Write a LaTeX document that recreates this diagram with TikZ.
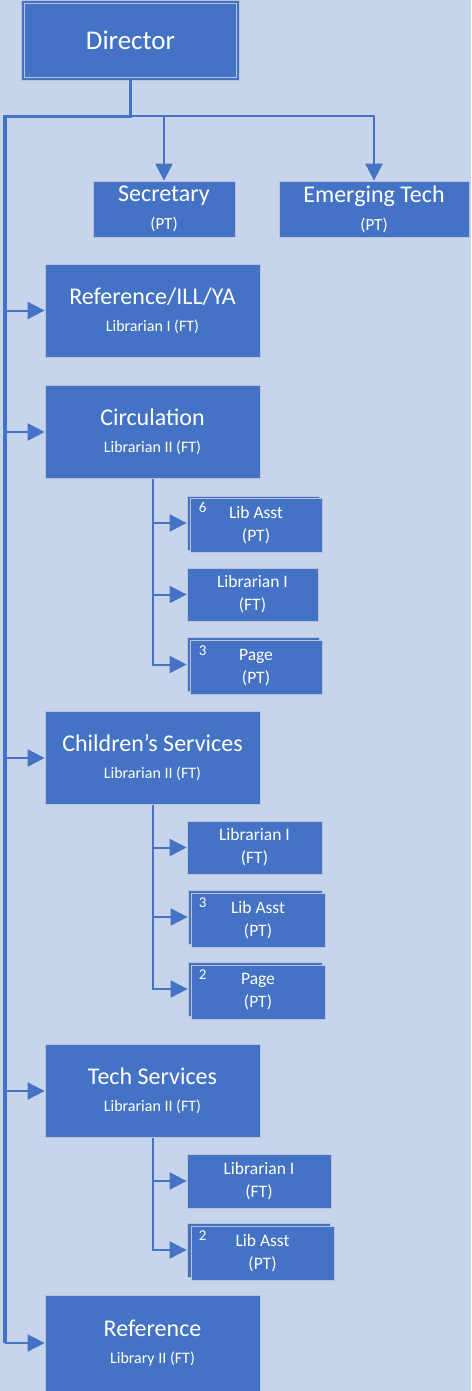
\documentclass[tikz,border=0pt]{standalone}
\usepackage{fontspec}
\setmainfont{Carlito}
\usetikzlibrary{arrows.meta,calc}
\definecolor{bg}{HTML}{C6D5EC}
\definecolor{boxblue}{HTML}{4472C4}
\definecolor{edgec}{HTML}{B8C3D6}
\definecolor{linec}{HTML}{4472C4}
\newcommand\mytitle[1]{{\fontsize{24}{28}\selectfont #1}}
\newcommand\mysub[1]{{\fontsize{16}{19}\selectfont #1}}
\newcommand\mytsub[1]{{\fontsize{17}{20}\selectfont #1}}
\tikzset{
 unitbox/.style={draw=edgec, line width=0.8pt, fill=boxblue, text=white, inner sep=0pt, align=center},
 mainbox/.style={unitbox, minimum width=215pt, minimum height=93pt, font=\fontsize{16}{27}\selectfont},
 topbox/.style={unitbox, minimum height=56pt, font=\fontsize{17}{28}\selectfont},
 subbox/.style={unitbox, minimum height=54pt, font=\fontsize{17.5}{23}\selectfont},
 conn/.style={draw=linec, line width=2pt},
 trunk/.style={draw=linec, line width=3.2pt},
 arr/.style={conn, -{Triangle[length=17pt,width=17pt]}},
 numlab/.style={text=white, font=\fontsize{15}{17}\selectfont, inner sep=0pt, anchor=north west},
}
\begin{document}
\begin{tikzpicture}[x=1pt,y=-1pt]
\useasboundingbox (0,0) rectangle (471,1391);
\fill[bg] (0,0) rectangle (471,1391);

% Director
\node[unitbox, minimum width=215pt, minimum height=77pt, draw=edgec, double=boxblue, double distance=2.5pt, font=\fontsize{27}{31}\selectfont] (dir) at (130.5,40.5) {Director};

% top row
\node[topbox, minimum width=142pt] (sec) at (164,209) {\mytitle{Secretary}\\\mytsub{(PT)}};
\node[topbox, minimum width=190pt] (emt) at (374,209) {\mytitle{Emerging Tech}\\\mytsub{(PT)}};

% main boxes
\node[mainbox] (rill) at (152.5,310.5) {\mytitle{Reference/ILL/YA}\\\mysub{Librarian I (FT)}};
\node[mainbox] (circ) at (152.5,432) {\mytitle{Circulation}\\\mysub{Librarian II (FT)}};
\node[mainbox] (child) at (152.5,758) {\mytitle{Children’s Services}\\\mysub{Librarian II (FT)}};
\node[mainbox] (tech) at (152.5,1091) {\mytitle{Tech Services}\\\mysub{Librarian II (FT)}};
\node[mainbox, minimum height=96pt] (ref) at (152.5,1343) {\mytitle{Reference}\\\mysub{Library II (FT)}};

% circulation subs
\node[subbox, minimum width=132pt] (c1b) at (253,523) {};
\node[subbox, minimum width=132pt] (c1) at (256,525) {Lib Asst\\(PT)};
\node[numlab] at ($(c1.north west)+(9,5)$) {6};
\node[subbox, minimum width=131pt, minimum height=53pt] (c2) at (252.5,594.5) {Librarian I\\(FT)};
\node[subbox, minimum width=132pt] (c3b) at (253,664.5) {};
\node[subbox, minimum width=132pt] (c3) at (256,667.5) {Page\\(PT)};
\node[numlab] at ($(c3.north west)+(9,5)$) {3};

% children subs
\node[subbox, minimum width=135pt, minimum height=53pt] (k1) at (254.5,847.5) {Librarian I\\(FT)};
\node[subbox, minimum width=134pt] (k2b) at (255,917) {};
\node[subbox, minimum width=134pt] (k2) at (258,920) {Lib Asst\\(PT)};
\node[numlab] at ($(k2.north west)+(8,5)$) {3};
\node[subbox, minimum width=134pt] (k3b) at (255,989) {};
\node[subbox, minimum width=134pt] (k3) at (258,992) {Page\\(PT)};
\node[numlab] at ($(k3.north west)+(8,5)$) {2};

% tech subs
\node[subbox, minimum width=144pt] (t1) at (259,1181) {Librarian I\\(FT)};
\node[subbox, minimum width=143pt] (t2b) at (258.5,1250) {};
\node[subbox, minimum width=143pt] (t2) at (262.5,1253) {Lib Asst\\(PT)};
\node[numlab] at ($(t2.north west)+(8,5)$) {2};

% connectors
\coordinate (j) at ($(dir.south)+(0,37)$);
\coordinate (L) at (5,0 |- j);
\draw[trunk] (dir.south) -- (j) -- (L) -- (L |- ref.west);
\draw[arr] (j) -| (sec.north);
\draw[arr] (j) -| (emt.north);
\foreach \b in {rill,circ,child,tech,ref}
  \draw[arr] (L |- \b.west) -- (\b.west);
\foreach \b in {c1b,c2,c3b}
  \draw[arr] (circ.south) |- (\b.west);
\foreach \b in {k1,k2b,k3b}
  \draw[arr] (child.south) |- (\b.west);
\foreach \b in {t1,t2b}
  \draw[arr] (tech.south) |- (\b.west);
\end{tikzpicture}
\end{document}
